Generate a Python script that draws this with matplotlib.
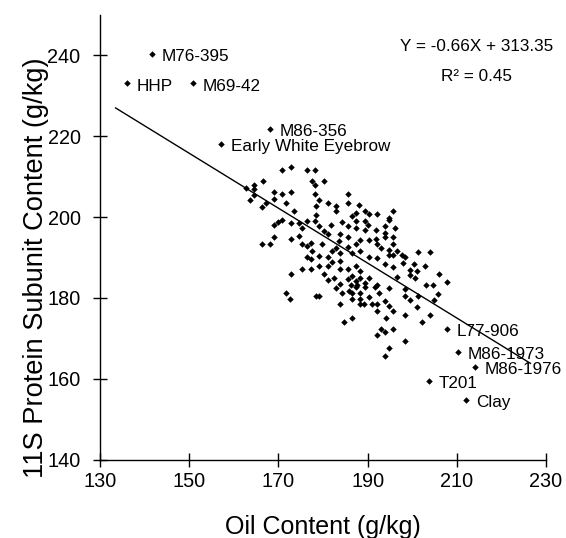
import matplotlib
matplotlib.use("Agg")
import matplotlib.pyplot as plt

plt.rcParams['font.family'] = ['Liberation Sans', 'DejaVu Sans']

# Unlabelled lines (oil content g/kg, 11S protein content g/kg)
oil = [162.8, 164.5, 164.6, 166.6, 164.5, 163.6, 166.3, 166.3, 168.2, 169.1,
       169.1, 170.0, 170.9, 169.1, 169.1, 167.2, 170.9, 171.8, 172.6,
       172.8, 176.5, 178.2, 177.5, 178.2, 180.2, 172.8, 170.9, 171.8, 178.2,
       179.1, 181.2, 185.6, 185.6, 183.0, 183.0, 188.0, 187.5, 189.5, 190.4,
       192.1, 195.8, 178.4, 178.4, 173.5, 172.8, 174.7, 176.5, 178.2, 179.1,
       175.3, 180.2, 181.2, 181.9, 184.3, 185.6, 186.5, 187.4, 189.4, 187.4,
       189.4, 190.1, 191.9, 193.8, 196.2, 194.9, 194.0, 195.8, 195.8, 196.5,
       194.9, 191.9, 190.2, 188.4, 187.4, 185.6, 183.9, 183.6, 183.0, 182.1,
       183.7, 185.6, 186.5, 188.4, 190.2, 192.1, 193.8, 198.4, 200.3,
       199.5, 172.8, 174.7, 175.4, 176.5, 177.3, 177.6, 179.8, 176.5, 177.3,
       179.1, 181.2, 182.1, 183.9, 179.1, 175.4, 177.3, 181.2, 183.7, 185.6,
       187.4, 188.4, 172.8, 180.2, 181.2, 182.4, 183.7, 185.6, 186.5, 187.4,
       188.4, 189.4, 190.2, 187.4, 189.4, 191.7, 185.8, 184.3, 183.0, 178.4,
       179.1, 183.7, 186.5, 188.4, 190.2, 192.5, 194.0, 194.7, 198.4, 198.4,
       186.3, 187.6, 188.4, 186.5, 188.4, 189.3, 191.0, 184.7, 186.5,
       195.8, 196.5, 202.9, 201.0, 205.9, 207.7, 203.2, 204.7, 192.0,
       194.7, 199.4, 201.4, 204.9, 205.8, 192.0, 195.8, 194.2, 192.0, 201.0,
       198.4, 204.0, 202.1, 192.9, 194.0, 195.7, 192.0, 198.4, 194.7, 194.0,
       199.5, 200.6, 198.0,
       194.7, 194.0, 192.0, 192.9, 194.7, 195.8, 197.7, 201.2, 204.0]
protein = [207.1, 208.0, 207.0, 208.8, 205.5, 204.3, 202.5, 193.3, 193.3, 195.0,
           198.0, 198.7, 199.2, 206.1, 204.5, 203.5, 211.7, 181.3, 179.8,
           212.5, 211.7, 211.7, 208.8, 208.0, 208.8, 206.2, 205.6, 203.5, 205.6,
           204.3, 203.5, 205.6, 203.5, 202.7, 201.5, 203.1, 201.0, 201.5, 200.8,
           200.8, 201.6, 202.7, 200.6, 201.5, 198.6, 198.6, 199.0, 199.0, 197.8,
           197.3, 196.5, 195.9, 198.0, 198.8, 197.8, 200.2, 199.0, 199.0, 197.2,
           196.7, 198.0, 196.9, 197.8, 197.3, 199.2, 195.0, 195.0, 193.3, 191.6,
           191.8, 194.5, 194.2, 194.2, 193.3, 195.0, 195.9, 194.1, 192.4, 191.6,
           191.2, 192.6, 191.2, 191.6, 190.1, 189.8, 188.3, 190.0, 188.3,
           187.0, 194.5, 195.3, 193.4, 192.8, 193.6, 191.6, 193.4, 190.0, 189.6,
           190.4, 190.0, 188.9, 189.1, 187.9, 187.1, 187.1, 187.9, 187.1, 187.1,
           187.9, 186.7, 186.0, 185.9, 184.4, 185.0, 183.4, 184.6, 185.4, 184.2,
           185.0, 183.8, 185.0, 182.7, 182.6, 182.7, 181.7, 181.3, 182.4, 180.5,
           180.5, 178.5, 179.7, 178.5, 180.1, 181.1, 179.3, 178.1, 182.2, 180.5,
           183.2, 183.2, 181.3, 181.3, 179.7, 178.6, 178.6, 174.1, 175.0,
           187.7, 185.2, 187.9, 186.7, 186.0, 184.0, 183.2, 183.2, 183.2,
           182.4, 179.5, 180.5, 179.5, 180.9, 178.5, 176.7, 175.0, 176.8, 177.8,
           175.8, 175.8, 174.1, 172.3, 171.5, 172.3, 170.7, 169.4, 167.6, 165.7,
           185.6, 185.0, 188.7,
           199.8, 196.1, 193.3, 192.4, 190.5, 190.5, 190.5, 191.4, 191.4]

# Labelled lines
names = ["M76-395", "HHP", "M69-42", "M86-356", "Early White Eyebrow",
         "L77-906", "M86-1973", "M86-1976", "T201", "Clay"]
label_oil = [141.6, 136.0, 150.9, 168.2, 157.2, 207.7, 210.3, 214.0, 203.8, 212.1]
label_protein = [240.3, 233.1, 233.1, 221.8, 218.1, 172.3, 166.7, 163.0, 159.4, 154.8]

# Regression line as drawn
trend_oil = [133.5, 226.5]
trend_protein = [227.0, 163.8]

equation = "Y = -0.66X + 313.35"
r2_text = "R\u00b2 = 0.45"

x_ticks = [130, 150, 170, 190, 210, 230]
y_ticks = [140, 160, 180, 200, 220, 240]

fig = plt.figure(figsize=(5.66, 5.38), dpi=100)
ax = fig.add_axes([0.1767, 0.1459, 0.788, 0.8262])

ax.plot(oil + label_oil, protein + label_protein, linestyle='none', marker='D',
        markersize=3.3, markeredgewidth=0, color='black')
ax.plot(trend_oil, trend_protein, color='black', linewidth=1.0)

for n, xv, yv in zip(names, label_oil, label_protein):
    ax.annotate(n, (xv, yv), xytext=(7, -2), textcoords='offset points',
                fontsize=12.3, ha='left', va='center')

ax.text(214.5, 242.1, equation, ha='center', va='center', fontsize=12.3)
ax.text(214.3, 234.7, r2_text, ha='center', va='center', fontsize=12.3)

ax.set_xlim(130, 230)
ax.set_ylim(140, 250)
ax.set_xticks(x_ticks)
ax.set_yticks(y_ticks)
for s in ['top', 'right']:
    ax.spines[s].set_visible(False)
for s in ['left', 'bottom']:
    ax.spines[s].set_linewidth(1.0)
ax.tick_params(direction='inout', length=10, width=1.0, labelsize=14.3)
ax.tick_params(axis='x', pad=4)
ax.tick_params(axis='y', pad=9)
ax.set_xlabel('Oil Content (g/kg)', fontsize=18, labelpad=17)
ax.set_ylabel('11S Protein Subunit Content (g/kg)', fontsize=19.6)
ax.yaxis.set_label_coords(-0.115, 0.432)

fig.savefig('out.png', dpi=100)
